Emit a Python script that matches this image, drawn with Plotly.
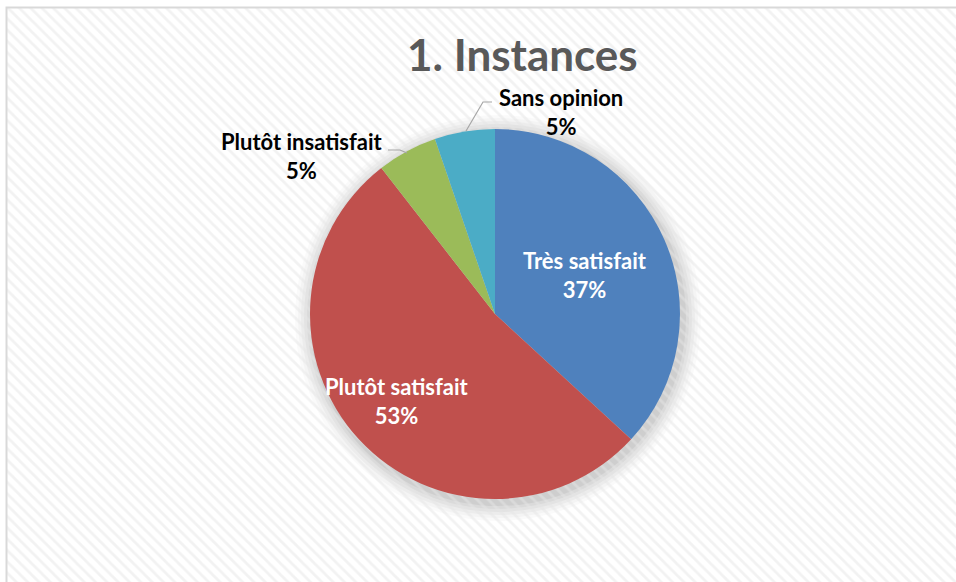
import plotly.graph_objects as go

categories = ["Très satisfait", "Plutôt satisfait", "Plutôt insatisfait", "Sans opinion"]
counts = [7, 10, 1, 1]
colors = ["#4F81BD", "#C0504D", "#9BBB59", "#4BACC6"]
title_text = "1. Instances"

W, H = 956, 582
cx, cy, r = 495, 314, 185

total = sum(counts)
pcts = [round(100 * c / total) for c in counts]

fig = go.Figure()

# hatched background
fig.add_trace(go.Scatter(
    x=[7, W + 5, W + 5, 7, 7], y=[8, 8, H + 5, H + 5, 8],
    mode="lines", line=dict(width=0), fill="toself",
    fillcolor="rgba(0,0,0,0)",
    fillpattern=dict(shape="\\", size=8, solidity=0.35, fgcolor="#e6e6e6", bgcolor="rgba(0,0,0,0)"),
    hoverinfo="skip", showlegend=False,
))

fig.add_trace(go.Pie(
    labels=categories, values=counts, sort=False, direction="clockwise", rotation=0,
    marker=dict(colors=colors, line=dict(width=0)),
    textinfo="none", hoverinfo="label+percent", showlegend=False,
    domain=dict(x=[(cx - r) / W, (cx + r) / W], y=[1 - (cy + r) / H, 1 - (cy - r) / H]),
))

shapes = []
# soft shadow behind pie
for k, op in [(18, 0.02), (15, 0.025), (12, 0.03), (9, 0.035), (6, 0.04), (3, 0.05)]:
    shapes.append(dict(type="circle", xref="x", yref="y", layer="below",
                       x0=cx + 3 - r - k, x1=cx + 3 + r + k, y0=cy + 4 - r - k, y1=cy + 4 + r + k,
                       fillcolor=f"rgba(0,0,0,{op})", line=dict(width=0)))
# border
shapes.append(dict(type="rect", xref="x", yref="y", x0=6.5, y0=7.5, x1=W + 10, y1=H + 10,
                   line=dict(color="#d9d9d9", width=2), fillcolor="rgba(0,0,0,0)", layer="above"))
# leader lines
shapes.append(dict(type="path", xref="x", yref="y", path="M 466 131 L 483 102 L 492 102",
                   line=dict(color="#a6a6a6", width=1.2), layer="above"))
shapes.append(dict(type="path", xref="x", yref="y", path="M 388 150 L 400 150 L 407 153",
                   line=dict(color="#a6a6a6", width=1.2), layer="above"))

font_fam = "Lato, 'Open Sans', sans-serif"
label_pos = [(585, 275, "white"), (397, 401, "white"), (302, 156, "black"), (561, 112, "black")]
annotations = []
for cat, p, (x, y, col) in zip(categories, pcts, label_pos):
    annotations.append(dict(x=x, y=y, xref="x", yref="y", showarrow=False,
                            text=f"<b>{cat}<br>{p}%</b>", align="center",
                            font=dict(family=font_fam, size=22, color=col)))
annotations.append(dict(x=522, y=54, xref="x", yref="y", showarrow=False,
                        text=f"<b>{title_text}</b>",
                        font=dict(family=font_fam, size=44, color="#595959")))

fig.update_layout(
    width=W, height=H, margin=dict(l=0, r=0, t=0, b=0),
    paper_bgcolor="white", plot_bgcolor="rgba(0,0,0,0)",
    xaxis=dict(range=[0, W], visible=False, fixedrange=True),
    yaxis=dict(range=[H, 0], visible=False, fixedrange=True),
    shapes=shapes, annotations=annotations,
)

fig.write_html("out.html", config={"displayModeBar": False},
               post_script="document.body.style.margin='0';document.body.style.overflow='hidden';")
